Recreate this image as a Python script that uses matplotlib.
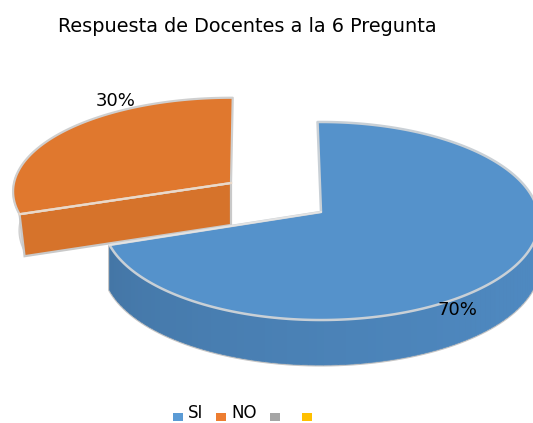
import numpy as np
import matplotlib
matplotlib.use("Agg")
import matplotlib.pyplot as plt
from matplotlib.patches import Polygon, Rectangle
from matplotlib.colors import to_rgb

# Data
title = "Respuesta de Docentes a la 6 Pregunta"
categories = ["SI", "NO", "", ""]
shares = [70, 30, 0, 0]
pct_labels = ["70%", "30%"]

# Styles
legend_colors = ["#5B9BD5", "#ED7D31", "#A5A5A5", "#FFC000"]
plt.rcParams["font.family"] = ["DejaVu Sans"]
EDGE = "#c9c9c9"
W, H = 533, 423

fig = plt.figure(figsize=(W / 100, H / 100), dpi=100)
ax = fig.add_axes([0, 0, 1, 1])
ax.set_xlim(0, W)
ax.set_ylim(H, 0)
ax.axis("off")

K = 0.0909


def rim(theta, cx, cy, a, b):
    """Project points of the pie rim; theta in degrees clockwise from the top."""
    t = np.radians(theta)
    u, v = np.sin(t), np.cos(t)
    w = 1 + K * v
    return cx + a * u / w, cy - b * v / w


def blend(c1, c2, f):
    return tuple((1 - f) * np.array(to_rgb(c1)) + f * np.array(to_rgb(c2)))


total = sum(shares)
rot = -1
boundary = rot + 360 * shares[0] / total

# --- Exploded NO slice (drawn first, it lies behind) ---
ocx, ocy, oa, ob, odep = 231, 183, 217, 93, 42
lean = 5
th = np.linspace(boundary, 360 + rot + 1.5, 120)
x, y = rim(th, ocx, ocy, oa, ob)
# thin outer wall on the left
wall = th < 275
ax.add_patch(Polygon(np.c_[np.r_[x[wall], x[wall][::-1] + lean + 1], np.r_[y[wall], y[wall][::-1] + odep - 3]],
                     fc="#dcdcdc", ec="#d0d0d0", lw=1, zorder=1))
# inner cut face
ax.add_patch(Polygon([(x[0], y[0]), (ocx, ocy), (ocx, ocy + odep), (x[0] + lean, y[0] + odep)],
                     fc="#D6732B", ec=EDGE, lw=1.6, zorder=2))
# top surface
ax.add_patch(Polygon(np.c_[np.r_[ocx, x], np.r_[ocy, y]],
                     fc="#E0782E", ec="#cfcfcf", lw=1.6, zorder=3, joinstyle="round"))
ax.plot([x[0], ocx], [y[0], ocy], color="#ecd9c8", lw=1.6, zorder=4)

# --- SI slice ---
bcx, bcy, ba, bb, bdep = 321, 212, 217, 98.2, 45
th = np.linspace(rot, boundary, 300)
x, y = rim(th, bcx, bcy, ba, bb)
# side wall, shaded strip by strip
n = 90
ths = np.linspace(90, boundary, n + 1)
wx, wy = rim(ths, bcx, bcy, ba, bb)
ax.add_patch(Polygon(np.c_[np.r_[wx, wx[::-1]], np.r_[wy, wy[::-1] + bdep]],
                     fc="#4F86BC", ec="#c4c4c4", lw=2.2, zorder=5))
for i in range(n):
    f = i / (n - 1)
    col = blend("#4F8AC2", "#4476A6", f ** 1.5)
    ax.add_patch(Polygon([(wx[i], wy[i]), (wx[i + 1], wy[i + 1]),
                          (wx[i + 1], wy[i + 1] + bdep), (wx[i], wy[i] + bdep)],
                         fc=col, ec=col, lw=0.5, zorder=6))
# top surface
ax.add_patch(Polygon(np.c_[np.r_[bcx, x], np.r_[bcy, y]],
                     fc="#5592CB", ec="#c9d0d6", lw=1.8, zorder=7, joinstyle="round"))
ax.plot([x[-1], bcx], [y[-1], bcy], color="#e3e3e3", lw=1.4, zorder=8)

# --- Text ---
ax.text(58, 26, title, fontsize=13.85, color="black", ha="left", va="center", zorder=10)
ax.text(116, 101, pct_labels[1], fontsize=13, ha="center", va="center", zorder=10)
ax.text(457, 310, pct_labels[0], fontsize=13, ha="center", va="center", zorder=10)

# --- Legend ---
sq_x = [173, 216, 270, 302]
for sx, c, label in zip(sq_x, legend_colors, categories):
    ax.add_patch(Rectangle((sx, 413), 9.5, 8.5, fc=c, ec="none", zorder=10))
    if label:
        ax.text(sx + 15, 418.5, label, fontsize=12, ha="left", va="baseline", zorder=10)

fig.savefig("out.png", dpi=100)
